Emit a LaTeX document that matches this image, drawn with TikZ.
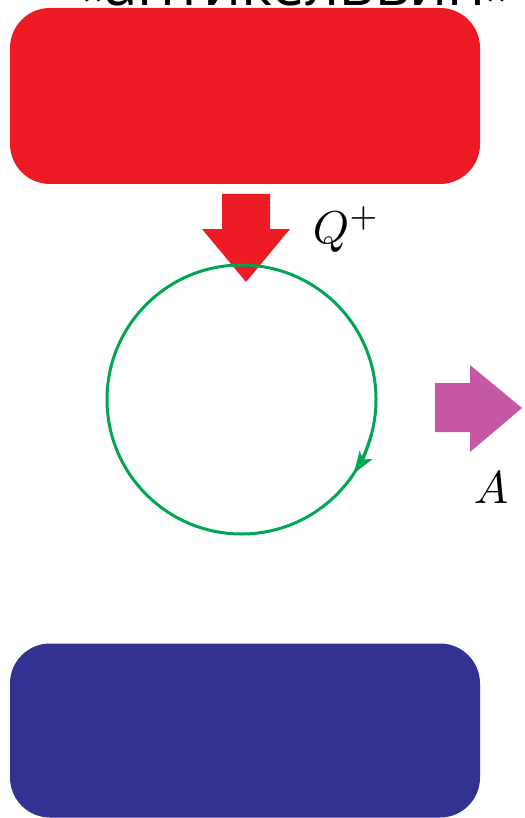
\documentclass[tikz,border=0pt]{standalone}
\usepackage{fontspec}
\newfontfamily\titlefont{Open Sans}
\usetikzlibrary{arrows.meta}
\definecolor{hotred}{RGB}{237,28,36}
\definecolor{coldblue}{RGB}{49,50,145}
\definecolor{cyclegreen}{RGB}{0,166,81}
\definecolor{workpink}{RGB}{197,87,165}

\begin{document}
\begin{tikzpicture}[x=1pt,y=-1pt,
    tank/.style={rounded corners=40pt,minimum width=470pt,inner sep=0pt},
    bigmath/.style={scale=4.6,inner sep=0pt}]
    \useasboundingbox (0,0) rectangle (524,818);

    \node[anchor=base,font=\titlefont\fontsize{60}{60}\selectfont] (title) at (295,6) {«антикельвин»};

    \node[tank,fill=hotred,minimum height=176pt] (hot) at (245,96) {};
    \node[tank,fill=coldblue,minimum height=174pt] (cold) at (245,730.5) {};

    % heat in
    \coordinate (qtip) at (246,282);
    \fill[hotred] (qtip) -- ++(-44,-53) -- ++(20,0) -- ++(0,-35) -- ++(48,0)
        -- ++(0,35) -- ++(20,0) -- cycle;
    \node[bigmath,anchor=base west] (qlabel) at (312,243) {$Q^+$};

    % cycle
    \node[circle,draw=cyclegreen,line width=3pt,minimum size=269pt,inner sep=0pt] (cyc) at (241.5,399.5) {};
    \draw[cyclegreen,line width=3pt,-{Stealth[length=22pt,width=15pt,inset=5pt]}]
        (cyc.center) ++(15:134.5) arc[start angle=15,end angle=33.4,radius=134.5];

    % work out
    \coordinate (atip) at (522,408);
    \fill[workpink] (atip) -- ++(-52,-43) -- ++(0,18) -- ++(-35,0) -- ++(0,49)
        -- ++(35,0) -- ++(0,20) -- cycle;
    \node[bigmath,anchor=base west] (alabel) at (473,503) {$A$};
\end{tikzpicture}
\end{document}
